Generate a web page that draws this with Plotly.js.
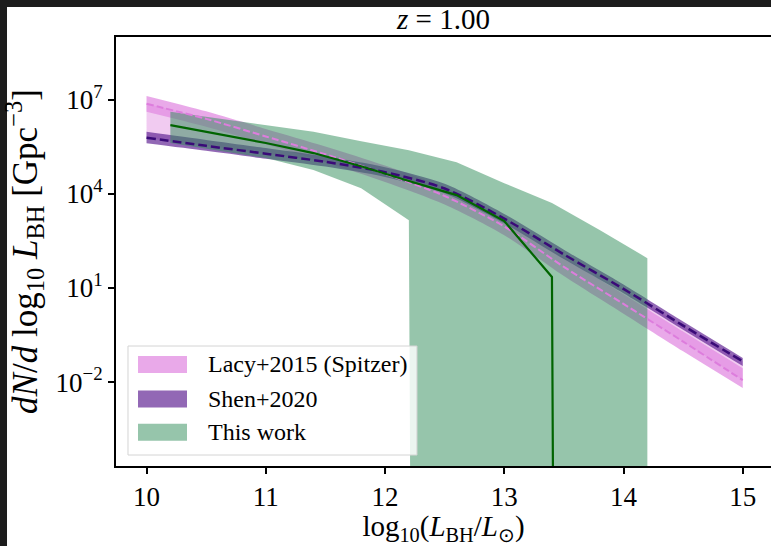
<!DOCTYPE html>
<html>
<head>
<meta charset="utf-8">
<script src="https://cdn.plot.ly/plotly-3.0.1.min.js"></script>
<style>
  html, body { margin: 0; padding: 0; background: #fff; width: 771px; height: 546px; overflow: hidden; }
  #chart { position: absolute; left: 0; top: 0; width: 771px; height: 546px; }
</style>
</head>
<body>
<div id="chart"></div>
<script>
// ---- data (log10 of dN/dlog10 L_BH [Gpc^-3]) ----
const lumGrid = [10, 10.5, 11, 11.5, 12, 12.5, 13, 13.5, 14, 14.5, 15];

const lacyLogMid = [6.87, 6.39, 5.83, 5.26, 4.64, 3.93, 2.96, 1.67, 0.49, -0.71, -1.94];
const lacyLogHi  = [7.12, 6.63, 6.07, 5.51, 4.90, 4.20, 3.24, 1.96, 0.80, -0.39, -1.56];
const lacyLogLo  = [6.62, 6.14, 5.58, 5.01, 4.38, 3.66, 2.68, 1.38, 0.18, -1.02, -2.19];

const shenLogMid = [5.79, 5.53, 5.28, 5.02, 4.69, 4.17, 3.21, 2.07, 0.97, -0.20, -1.34];
const shenLogHi  = [5.98, 5.72, 5.46, 5.19, 4.85, 4.32, 3.36, 2.22, 1.11, -0.07, -1.23];
const shenLogLo  = [5.61, 5.37, 5.12, 4.87, 4.54, 4.02, 3.06, 1.92, 0.83, -0.33, -1.49];

const workLum    = [10.2, 10.6, 11.0, 11.4, 11.8, 12.2, 12.6, 13.0, 13.4, 13.8, 14.2];
const workLogMed = [6.19, 5.90, 5.62, 5.30, 4.88, 4.41, 3.96, 3.13, 1.35, null, null];
const workLogHi  = [6.62, 6.40, 6.19, 5.98, 5.68, 5.39, 5.01, 4.34, 3.71, 2.85, 1.95];
const workLogLo  = [5.62, 5.39, 5.14, 4.76, 4.18, 3.16, null, null, null, null, null];

const yTickVals = [1e-2, 1e1, 1e4, 1e7];
const yTickText = ['10<sup>\u22122</sup>', '10<sup>1</sup>', '10<sup>4</sup>', '10<sup>7</sup>'];
const xTickVals = [10, 11, 12, 13, 14, 15];
const legendNames = ['Lacy+2015 (Spitzer)', 'Shen+2020', 'This work'];

// empty bins (zero density) are clipped to a tiny positive value, as a log axis does
const toLin = v => (v === null ? 1e-300 : Math.pow(10, v));

// smooth band between two curves (lower trace, then upper trace filled to it)
function smoothBand(xs, hi, lo, color, nm) {
  return [
    {x: xs, y: lo.map(toLin), type: 'scatter', mode: 'lines',
     line: {width: 0, shape: 'spline', smoothing: 0.8}, hoverinfo: 'skip', showlegend: false, name: nm + ' low'},
    {x: xs, y: hi.map(toLin), type: 'scatter', mode: 'lines', fill: 'tonexty', fillcolor: color,
     line: {width: 0, shape: 'spline', smoothing: 0.8}, hoverinfo: 'skip', showlegend: false, name: nm}
  ];
}
// binned band as a closed polygon
function polyBand(xs, hi, lo, color, nm) {
  return {
    x: xs.concat(xs.slice().reverse()),
    y: hi.map(toLin).concat(lo.map(toLin).reverse()),
    type: 'scatter', mode: 'lines', fill: 'toself',
    fillcolor: color, line: {width: 0}, hoverinfo: 'skip', showlegend: false, name: nm
  };
}
function curve(xs, ys, color, width, dash, nm, smooth) {
  const ln = {color: color, width: width, dash: dash};
  if (smooth) { ln.shape = 'spline'; ln.smoothing = 0.8; }
  return {x: xs, y: ys.map(toLin), type: 'scatter', mode: 'lines', line: ln, showlegend: false, name: nm};
}

const colLacy = 'rgba(225,140,225,0.75)';
const colLacyLight = 'rgba(225,140,225,0.45)';
const colShen = 'rgba(100,40,150,0.7)';
const colWork = 'rgba(46,139,87,0.5)';

const traces = [].concat(
  smoothBand(lumGrid, lacyLogMid, shenLogMid, colLacyLight, 'Lacy+2015 range'),
  smoothBand(lumGrid, lacyLogHi, lacyLogLo, colLacy, legendNames[0]),
  smoothBand(lumGrid, shenLogHi, shenLogLo, colShen, legendNames[1]),
  [polyBand(workLum, workLogHi, workLogLo, colWork, legendNames[2]),
   curve(lumGrid, lacyLogMid, '#dd7ddd', 2, '7px,3px', 'Lacy+2015 median', true),
   curve(lumGrid, shenLogMid, '#3a0a78', 2.5, '9px,4px', 'Shen+2020 median', true),
   curve(workLum, workLogMed, '#006400', 2.2, 'solid', 'This work median', false)]
);

const font = 'Liberation Serif, Times New Roman, serif';

// plot area: page x 116..771, y 37..466 (655 x 429 px)
const shapes = [
  // dark frame strips of the screenshot (left and top edges)
  {type: 'rect', xref: 'paper', yref: 'paper', x0: -0.18, x1: -0.1664, y0: -0.19, y1: 1.09,
   fillcolor: '#1c1c1c', line: {width: 0}, layer: 'below'},
  {type: 'rect', xref: 'paper', yref: 'paper', x0: -0.18, x1: 1.01, y0: 1.0699, y1: 1.09,
   fillcolor: '#1c1c1c', line: {width: 0}, layer: 'below'},
  // legend box
  {type: 'rect', xref: 'paper', yref: 'paper', x0: 0.0183, x1: 0.4595, y0: 0.0256, y1: 0.2797,
   fillcolor: 'rgba(255,255,255,0.82)', line: {color: '#d4d4d4', width: 1}, layer: 'above'}
];
const legRows = [0.2366, 0.1562, 0.0787];
const legCols = [colLacy, colShen, colWork];
const annotations = [];
legRows.forEach((yc, i) => {
  shapes.push({type: 'rect', xref: 'paper', yref: 'paper', x0: 0.0336, x1: 0.1084,
    y0: yc - 0.0198, y1: yc + 0.0198, fillcolor: legCols[i], line: {width: 0}, layer: 'above'});
  annotations.push({xref: 'paper', yref: 'paper', x: 0.1374, y: yc, xanchor: 'left', yanchor: 'middle',
    text: legendNames[i], showarrow: false, font: {family: font, size: 24, color: '#000'}});
});

const layout = {
  width: 771, height: 546,
  margin: {l: 116, r: 0, t: 37, b: 80, pad: 0},
  paper_bgcolor: '#fff', plot_bgcolor: '#fff',
  showlegend: false,
  title: {text: '<i>z</i> = 1.00', x: 0.5, xref: 'paper', xanchor: 'center',
          y: 1 - 19 / 546, yref: 'container', yanchor: 'middle', pad: {t: 0, b: 0},
          font: {family: font, size: 29, color: '#000'}},
  xaxis: {
    range: [9.744, 15.237], tickvals: xTickVals, ticktext: xTickVals.map(String),
    showgrid: false, zeroline: false, showline: true, mirror: true,
    linecolor: '#000', linewidth: 2, ticks: 'outside', ticklen: 6, tickwidth: 2, tickcolor: '#000',
    tickfont: {family: font, size: 27, color: '#000'},
    title: {text: 'log<sub>10</sub>(<i>L</i><sub>BH</sub>/<i>L</i><sub>\u2299</sub>)', standoff: 6,
            font: {family: font, size: 29, color: '#000'}}
  },
  yaxis: {
    type: 'log', range: [-4.676, 9.0], tickvals: yTickVals, ticktext: yTickText,
    showgrid: false, zeroline: false, showline: true, mirror: false,
    linecolor: '#000', linewidth: 2, ticks: 'outside', ticklen: 6, tickwidth: 2, tickcolor: '#000',
    tickfont: {family: font, size: 27, color: '#000'},
    title: {text: '<i>dN</i>/<i>d</i> log<sub>10</sub> <i>L</i><sub>BH</sub> [Gpc<sup>\u22123</sup>]', standoff: 8,
            font: {family: font, size: 35, color: '#000'}}
  },
  shapes: shapes,
  annotations: annotations
};

Plotly.newPlot('chart', traces, layout, {displayModeBar: false, staticPlot: true});
</script>
</body>
</html>
